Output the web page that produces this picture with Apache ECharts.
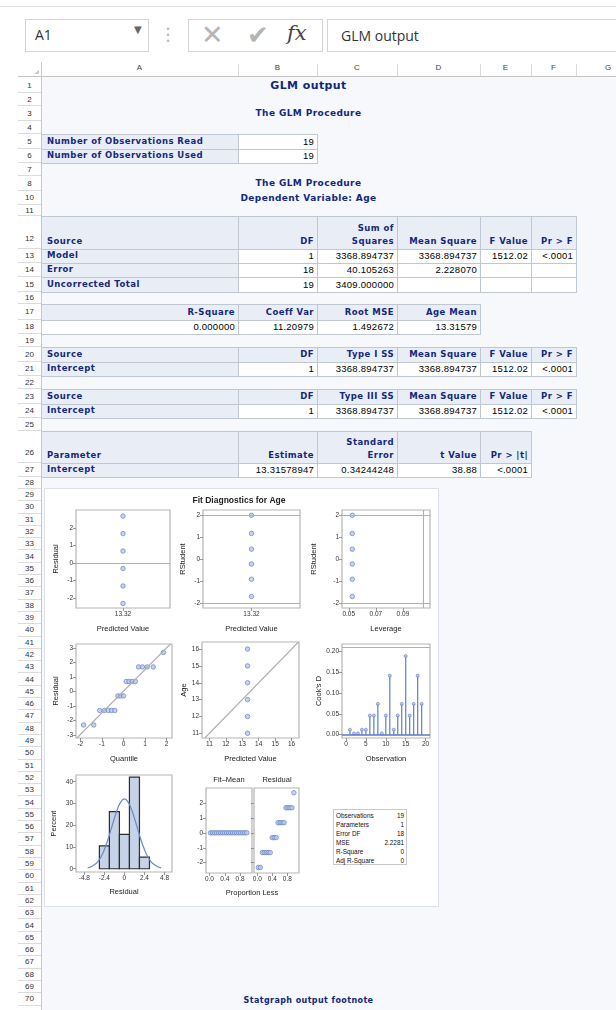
<!DOCTYPE html>
<html><head><meta charset="utf-8">
<script src="https://cdn.jsdelivr.net/npm/echarts@6/dist/echarts.min.js"></script>
<style>
body{margin:0;width:616px;height:1010px;position:relative;overflow:hidden;background:#fff;font-family:'Liberation Sans',Arial,sans-serif;}
.a{position:absolute;box-sizing:border-box;}
.h{background:#e9eef6;color:#14287a;font:bold 8.5px 'DejaVu Sans';letter-spacing:.45px;border:1px solid #bfc7d3;display:flex;align-items:flex-end;padding:0 3px 1px 5px;line-height:13px;}
.d{background:#fff;color:#000;font:9.5px 'Liberation Sans';letter-spacing:.25px;border:1px solid #bfc7d3;display:flex;align-items:flex-end;padding:0 3px 1px 4px;line-height:13px;}
.t{color:#14287a;font:bold 9px 'DejaVu Sans';letter-spacing:.4px;text-align:center;}
.rn{font:8px 'Liberation Sans';color:#333;text-align:center;border-bottom:1px solid #dcdcdc;}
</style></head>
<body>
<div id="sheet"></div>
<div id="chart" class="a" style="left:0;top:0;width:616px;height:1010px;"></div>
<script>
// ---------------- data ----------------
const colLetters = ['A','B','C','D','E','F','G'];
const predLabels = ['13.32'];
const residVals = [2.68, 1.68, 0.68, -0.32, -1.32, -2.32];
const rstudentVals = [1.99, 1.17, 0.46, -0.21, -0.90, -1.68];
const leverageVal = 0.0526;
const leverageRef = 0.1053;
const qqQuantiles = [-1.85,-1.38,-1.10,-0.88,-0.70,-0.55,-0.40,-0.26,-0.13,0,0.13,0.26,0.40,0.55,0.70,0.88,1.10,1.38,1.85];
const qqResid = [-2.32,-2.32,-1.32,-1.32,-1.32,-1.32,-1.32,-0.32,-0.32,-0.32,0.68,0.68,0.68,0.68,1.68,1.68,1.68,1.68,2.68];
const predVal = 13.32;
const ageVals = [16, 15, 14, 13, 12, 11];
const cookObs = [1,2,3,4,5,6,7,8,9,10,11,12,13,14,15,16,17,18,19];
const cookD = [0.012,0.003,0.003,0.012,0.012,0.046,0.046,0.074,0.003,0.046,0.142,0.012,0.046,0.074,0.189,0.046,0.074,0.142,0.074];
const cookRef = 0.2105;
const histMid = [-2.4, -1.2, 0, 1.2, 2.4];
const histPct = [10.5, 26.3, 15.8, 42.1, 5.3];
const histWidth = 1.2;
const normX = [-4.4,-4.0,-3.6,-3.2,-2.8,-2.4,-2.0,-1.6,-1.2,-0.8,-0.4,0,0.4,0.8,1.2,1.6,2.0,2.4,2.8,3.2,3.6,4.0,4.4];
const normY = [0.4,0.9,1.8,3.2,5.5,8.8,13.1,18.1,23.2,27.8,30.9,32.1,30.9,27.8,23.2,18.1,13.1,8.8,5.5,3.2,1.8,0.9,0.4];
const rfProp = [0.026,0.079,0.132,0.184,0.237,0.289,0.342,0.395,0.447,0.5,0.553,0.605,0.658,0.711,0.763,0.816,0.868,0.921,0.974];
const fitMean = [0,0,0,0,0,0,0,0,0,0,0,0,0,0,0,0,0,0,0];
const rfResid = [-2.32,-2.32,-1.32,-1.32,-1.32,-1.32,-1.32,-0.32,-0.32,-0.32,0.68,0.68,0.68,0.68,1.68,1.68,1.68,1.68,2.68];
const statLabels = ['Observations','Parameters','Error DF','MSE','R-Square','Adj R-Square'];
const statValues = ['19','1','18','2.2281','0','0'];
// tick labels
const resTicks = [-2,-1,0,1,2];
const qqYTicks = [-3,-2,-1,0,1,2,3];
const qqXTicks = [-2,-1,0,1,2];
const levTicks = [0.05,0.07,0.09];
const ageTicks = [11,12,13,14,15,16];
const cookXTicks = [0,5,10,15,20];
const cookYTicks = [0,0.05,0.10,0.15,0.20];
const histXTicks = [-4.8,-2.4,0,2.4,4.8];
const histYTicks = [0,10,20,30,40];
const propTicks = [0,0.4,0.8];

// ---------------- spreadsheet ----------------
const sheet = document.getElementById('sheet');
function el(html, cls, x, y, w, h, style){
  const d=document.createElement('div'); d.className='a '+(cls||'');
  d.style.left=x+'px'; d.style.top=y+'px'; d.style.width=w+'px'; d.style.height=h+'px';
  if(style) d.style.cssText+=style;
  d.innerHTML=html; sheet.appendChild(d); return d;
}
const colX=[41,238,317,397,480,531,576,640];
const rowB={1:[79,93],2:[93,106],3:[106,121],4:[121,134],5:[134,149],6:[149,163],7:[163,176],8:[176,191],10:[191,205],11:[205,216],12:[216,249],13:[249,263],14:[263,277],15:[277,292],16:[292,304],17:[304,320],18:[320,334],19:[334,347],20:[347,362],21:[362,376],22:[376,389],23:[389,404],24:[404,418],25:[418,431],26:[431,463],27:[463,477],28:[477,489]};
for(let n=29;n<=70;n++) rowB[n]=[489+(n-29)*12.3, 489+(n-28)*12.3];

// top chrome
el('', '', 0, 6, 616, 1, 'background:#e3e3e3');
el('<span style="position:absolute;left:9px;top:5px;font:14px \'Open Sans\';color:#333">A1</span><span style="position:absolute;left:108px;top:4px;font:10px \'DejaVu Sans\';color:#666">&#9660;</span>','',25,19,124,33,'border:1px solid #d4d4d4;background:#fff');
el('<div style="font:bold 12px DejaVu Sans;color:#bbb;line-height:6px;text-align:center">&middot;<br>&middot;<br>&middot;</div>','',163,26,10,20,'');
el('<span style="position:absolute;left:12px;top:-1px;font:27px \'DejaVu Sans\';color:#b5b5b5">&#x2715;</span><span style="position:absolute;left:58px;top:0px;font:26px \'DejaVu Sans\';color:#b5b5b5">&#x2714;</span><span style="position:absolute;left:98px;top:1px;font:italic 21px \'DejaVu Serif\';color:#444">fx</span>','',188,19,135,33,'border:1px solid #d4d4d4;background:#fff');
el('<span style="position:absolute;left:13px;top:6px;font:14px \'Open Sans\';color:#333">GLM output</span>','',327,19,300,33,'border:1px solid #d4d4d4;border-right:none;background:#fff');

// sheet background
el('', '', 41, 77, 575, 933, 'background:#f6f8fc');
// column header
el('', '', 18, 76, 598, 1, 'background:#c4c4c4');
for(let i=0;i<7;i++){
  el(colLetters[i],'',colX[i],62,colX[i+1]-colX[i],13,'font:8px Liberation Sans;color:#444;text-align:center;line-height:12px;');
  if(i>0) el('','',colX[i],64,1,12,'background:#dadada');
}
el('','',35,70,4,4,'background:linear-gradient(135deg,transparent 50%,#ccc 50%)');
el('', '', 41, 62, 1, 948, 'background:#c8c8c8');
// row numbers
Object.keys(rowB).forEach(k=>{
  const b=rowB[k];
  el(k,'rn',18,b[0],23,b[1]-b[0],'line-height:'+(b[1]-b[0]+ (b[1]-b[0]>20?12:0))+'px;');
});

function title(r, text, size, dy){
  const b=rowB[r];
  el(text,'t',41,b[0]+(dy||0),535,b[1]-b[0],'line-height:'+(b[1]-b[0])+'px;'+(size?'font-size:'+size+'px;':''));
}
title(1,'GLM output',11);
title(3,'The GLM Procedure');
title(8,'The GLM Procedure');
title(10,'Dependent Variable: Age');
title(70,'Statgraph output footnote',8,2);

function cell(r,c,text,kind,align){
  const b=rowB[r];
  return el(text,kind,colX[c],b[0],colX[c+1]-colX[c]+1,b[1]-b[0]+1,'justify-content:'+(align==='l'?'flex-start':'flex-end')+';text-align:'+(align==='l'?'left':'right')+';');
}
function row(r,cells,kinds,aligns){
  cells.forEach((t,i)=>cell(r,i,t,kinds[i],aligns[i]));
}
const H='h',D='d';
row(5,['Number of Observations Read','19'],[H,D],['l','r']);
row(6,['Number of Observations Used','19'],[H,D],['l','r']);
row(12,['Source','DF','Sum of<br>Squares','Mean Square','F Value','Pr &gt; F'],[H,H,H,H,H,H],['l','r','r','r','r','r']);
row(13,['Model','1','3368.894737','3368.894737','1512.02','&lt;.0001'],[H,D,D,D,D,D],['l','r','r','r','r','r']);
row(14,['Error','18','40.105263','2.228070','',''],[H,D,D,D,D,D],['l','r','r','r','r','r']);
row(15,['Uncorrected Total','19','3409.000000','','',''],[H,D,D,D,D,D],['l','r','r','r','r','r']);
row(17,['R-Square','Coeff Var','Root MSE','Age Mean'],[H,H,H,H],['r','r','r','r']);
row(18,['0.000000','11.20979','1.492672','13.31579'],[D,D,D,D],['r','r','r','r']);
row(20,['Source','DF','Type I SS','Mean Square','F Value','Pr &gt; F'],[H,H,H,H,H,H],['l','r','r','r','r','r']);
row(21,['Intercept','1','3368.894737','3368.894737','1512.02','&lt;.0001'],[H,D,D,D,D,D],['l','r','r','r','r','r']);
row(23,['Source','DF','Type III SS','Mean Square','F Value','Pr &gt; F'],[H,H,H,H,H,H],['l','r','r','r','r','r']);
row(24,['Intercept','1','3368.894737','3368.894737','1512.02','&lt;.0001'],[H,D,D,D,D,D],['l','r','r','r','r','r']);
row(26,['Parameter','Estimate','Standard<br>Error','t Value','Pr &gt; |t|'],[H,H,H,H,H],['l','r','r','r','r']);
row(27,['Intercept','13.31578947','0.34244248','38.88','&lt;.0001'],[H,D,D,D,D],['l','r','r','r','r']);

// diagnostics panel background
el('','',44,488,395,419,'background:#fff;border:1px solid #dde2ea;');
// fit statistics box
(function(){
  el('','',333,809,74,56,'background:#fff;border:1px solid #c9c9c9;');
  statLabels.forEach((l,i)=>{
    el(l,'',336,811+i*9,50,9,'font:6.4px Liberation Sans;color:#111;line-height:9px;');
    el(statValues[i],'',370,811+i*9,34,9,'font:6.4px Liberation Sans;color:#111;line-height:9px;text-align:right;');
  });
})();

// ---------------- charts ----------------
const FONT='Liberation Sans';
const frame={show:true,borderColor:'#b5b5b5',borderWidth:1.2,backgroundColor:'transparent',containLabel:false,outerBoundsMode:'none'};
function G(l,t,w,h){return Object.assign({left:l,top:t,width:w,height:h},frame);}
const nameStyle={fontSize:7.5,color:'#222',fontFamily:FONT};
function vAxis(gi,min,max,ticks,fmt,name,gap,isY){
  const ax={type:'value',gridIndex:gi,min:min,max:max,
    axisLine:{show:false,onZero:false},
    axisTick:{show:true,length:3,lineStyle:{color:'#808080',width:0.8},customValues:ticks},
    axisLabel:{show:!!fmt,fontSize:6.5,color:'#333',margin:3,fontFamily:FONT,customValues:ticks,formatter:fmt||undefined},
    splitLine:{show:false}};
  if(name){ax.name=name;ax.nameLocation='middle';ax.nameGap=gap;ax.nameTextStyle=nameStyle;if(isY)ax.nameRotate=90;}
  return ax;
}
const fInt=v=>String(Math.round(v));
const f1=v=>v.toFixed(1);
const f2=v=>v.toFixed(2);
const fRaw=v=>String(Math.round(v*10)/10);
function catAxis(gi,name,gap){
  return {type:'category',gridIndex:gi,data:predLabels,boundaryGap:true,
    axisLine:{show:false,onZero:false},axisTick:{show:true,alignWithLabel:true,length:3,lineStyle:{color:'#808080',width:0.8}},
    axisLabel:{fontSize:6.5,color:'#333',margin:3,fontFamily:FONT},
    name:name,nameLocation:'middle',nameGap:gap,nameTextStyle:nameStyle};
}
const mark={symbolSize:4.5,itemStyle:{color:'#b9c7ec',borderColor:'#5b77c3',borderWidth:0.8}};
function refLines(data,color){
  return {silent:true,symbol:'none',animation:false,label:{show:false},lineStyle:{color:color||'#b0b0b0',type:'solid',width:1.1},data:data};
}

const option={
  backgroundColor:'transparent',
  animation:false,
  grid:[
    G(76,510,94,98),
    G(203,510,97,98),
    G(342,510,88,98),
    G(76,644,96,94),
    G(202,642,97,96),
    G(342,644,88,94),
    G(76,775,96,97),
    G(206,788,46,85),
    G(254,788,45,85)
  ],
  xAxis:[
    catAxis(0,'Predicted Value',17),
    catAxis(1,'Predicted Value',17),
    vAxis(2,0.045,0.110,levTicks,f2,'Leverage',17),
    vAxis(3,-2.2,2.25,qqXTicks,fInt,'Quantile',17),
    vAxis(4,10.55,16.45,ageTicks,fInt,'Predicted Value',17),
    vAxis(5,-1,21.1,cookXTicks,fInt,'Observation',17),
    vAxis(6,-5.8,5.7,histXTicks,fRaw,'Residual',16),
    vAxis(7,-0.09,1.11,propTicks,f1),
    vAxis(8,-0.09,1.11,propTicks,f1)
  ],
  yAxis:[
    vAxis(0,-2.58,3.03,resTicks,fInt,'Residual',16,true),
    vAxis(1,-2.2,2.23,resTicks,fInt,'RStudent',16,true),
    vAxis(2,-2.2,2.23,resTicks,fInt,'RStudent',24,true),
    vAxis(3,-3.22,3.26,qqYTicks,fInt,'Residual',16,true),
    vAxis(4,10.72,16.42,ageTicks,fInt,'Age',13,true),
    vAxis(5,-0.008,0.218,cookYTicks,f2,"Cook's D",17,true),
    vAxis(6,-1.5,43.1,histYTicks,fInt,'Percent',18,true),
    vAxis(7,-2.69,3.0,resTicks,fInt),
    vAxis(8,-2.69,3.0,resTicks,null)
  ],
  graphic:[
    {type:'text',x:239,y:501,style:{text:'Fit Diagnostics for Age',font:'bold 8.5px '+FONT,fill:'#222',align:'center',verticalAlign:'middle'}},
    {type:'text',x:229,y:780,style:{text:'Fit\u2013Mean',font:'7.5px '+FONT,fill:'#222',align:'center',verticalAlign:'middle'}},
    {type:'text',x:277,y:780,style:{text:'Residual',font:'7.5px '+FONT,fill:'#222',align:'center',verticalAlign:'middle'}},
    {type:'text',x:252,y:893,style:{text:'Proportion Less',font:'7.5px '+FONT,fill:'#222',align:'center',verticalAlign:'middle'}}
  ],
  series:[
    Object.assign({type:'scatter',xAxisIndex:0,yAxisIndex:0,data:residVals.map(v=>[0,v]),markLine:refLines([{yAxis:0}])},mark),
    Object.assign({type:'scatter',xAxisIndex:1,yAxisIndex:1,data:rstudentVals.map(v=>[0,v]),markLine:refLines([{yAxis:2},{yAxis:-2}])},mark),
    Object.assign({type:'scatter',xAxisIndex:2,yAxisIndex:2,data:rstudentVals.map(v=>[leverageVal,v]),
      markLine:refLines([{yAxis:2},{yAxis:-2},[{coord:[leverageRef,-2.2]},{coord:[leverageRef,2.23]}]])},mark),
    Object.assign({type:'scatter',xAxisIndex:3,yAxisIndex:3,data:qqQuantiles.map((q,i)=>[q,qqResid[i]]),
      markLine:refLines([[{coord:[-2.16,-3.22]},{coord:[2.18,3.26]}]])},mark),
    Object.assign({type:'scatter',xAxisIndex:4,yAxisIndex:4,data:ageVals.map(a=>[predVal,a]),
      markLine:refLines([[{coord:[10.72,10.72]},{coord:[16.42,16.42]}]])},mark),
    {type:'custom',xAxisIndex:5,yAxisIndex:5,data:cookObs.map((o,i)=>[o,cookD[i]]),encode:{x:0,y:1},
      renderItem:function(params,api){
        const p0=api.coord([api.value(0),0]),p1=api.coord([api.value(0),api.value(1)]);
        return {type:'line',shape:{x1:p0[0],y1:p0[1],x2:p1[0],y2:p1[1]},style:{stroke:'#6a87c9',lineWidth:1.3}};
      }},
    {type:'scatter',xAxisIndex:5,yAxisIndex:5,data:cookObs.map((o,i)=>[o,cookD[i]]),symbolSize:3,itemStyle:{color:'#b9c7ec',borderColor:'#5b77c3',borderWidth:0.8},
      markLine:refLines([{yAxis:cookRef},{yAxis:0,lineStyle:{color:'#5b77c3',width:1.5}}])},
    {type:'custom',xAxisIndex:6,yAxisIndex:6,data:histMid.map((m,i)=>[m,histPct[i]]),encode:{x:0,y:1},
      renderItem:function(params,api){
        const c=api.value(0),h=api.value(1);
        const a=api.coord([c-histWidth/2,h]),b=api.coord([c+histWidth/2,0]);
        return {type:'rect',shape:{x:a[0],y:a[1],width:b[0]-a[0],height:b[1]-a[1]},style:{fill:'#c6d2e7',stroke:'#2e2e2e',lineWidth:1.2}};
      }},
    {type:'line',xAxisIndex:6,yAxisIndex:6,data:normX.map((x,i)=>[x,normY[i]]),smooth:true,showSymbol:false,symbol:'none',lineStyle:{color:'#6a8bc2',width:1.2}},
    Object.assign({type:'scatter',xAxisIndex:7,yAxisIndex:7,data:rfProp.map((p,i)=>[p,fitMean[i]])},mark),
    Object.assign({type:'scatter',xAxisIndex:8,yAxisIndex:8,data:rfProp.map((p,i)=>[p,rfResid[i]])},mark)
  ]
};
const chart=echarts.init(document.getElementById('chart'),null,{renderer:'canvas'});
chart.setOption(option);
</script>
</body></html>
